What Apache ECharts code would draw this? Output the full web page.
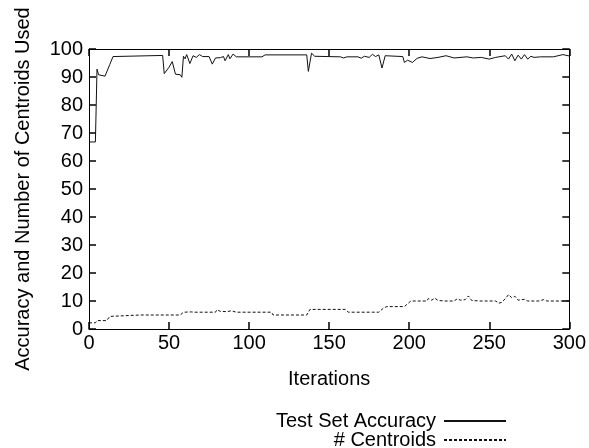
<!DOCTYPE html>
<html>
<head>
<meta charset="utf-8">
<script src="https://cdn.jsdelivr.net/npm/echarts@6/dist/echarts.min.js"></script>
<style>html,body{margin:0;padding:0;background:#fff}#c{width:589px;height:448px}</style>
</head>
<body>
<div id="c"></div>
<script>
const xTicks = [0, 50, 100, 150, 200, 250, 300];
const yTicks = [0, 10, 20, 30, 40, 50, 60, 70, 80, 90, 100];
const seriesNames = ['Test Set Accuracy', '# Centroids'];
const accuracy = [
  [0,66.8],[4,66.8],[5,92.8],[6,90.8],[7,90.3],[10,90.3],[11,90.5],[13,94.5],[15,97.3],[16,97.7],
  [46,97.7],[47,91.2],[50,93.5],[52,95.5],[54,91.0],[55,91.5],[57,90.8],[58,89.9],[59,97.4],[60,96.5],
  [61,98.0],[62,97.6],[63,94.8],[65,97.6],[67,97.0],[69,98.0],[71,97.3],[75,97.3],[77,94.6],[79,96.8],
  [82,96.9],[84,97.3],[85,95.8],[87,98.0],[88,96.5],[90,98.2],[92,97.2],[108,97.2],[110,97.9],[136,97.9],
  [137,92.0],[139,98.5],[141,97.4],[157,97.2],[159,96.8],[161,97.2],[168,97.2],[170,96.7],[172,97.4],[175,97.0],
  [177,98.1],[179,97.3],[181,97.9],[183,93.2],[185,97.6],[196,97.3],[197,95.2],[199,96.0],[202,95.2],[205,96.7],
  [208,97.2],[213,96.6],[218,97.0],[223,97.6],[228,96.8],[236,97.2],[240,96.8],[245,97.0],[250,96.4],[254,97.0],
  [260,97.6],[262,96.4],[264,98.2],[266,95.8],[268,97.8],[270,96.4],[272,98.0],[274,96.4],[276,97.4],[278,97.0],
  [282,97.2],[290,97.2],[293,97.6],[296,98.0],[300,97.5]
];
const centroids = [
  [0,2.2],[4,2.2],[5,3.0],[11,3.0],[13,4.5],[14,5.0],[32,5.0],[33,5.6],[34,5.0],[57,5.0],
  [59,6.0],[64,6.1],[65,6.6],[66,6.0],[79,6.0],[80,6.9],[82,6.3],[86,6.2],[89,6.5],[92,6.0],
  [114,6.0],[115,5.0],[136,5.0],[138,7.0],[160,7.0],[162,6.0],[175,6.0],[176,6.5],[177,6.0],[181,6.0],
  [182,5.7],[184,7.5],[186,8.0],[197,8.0],[199,9.0],[201,10.0],[211,10.0],[212,10.9],[214,10.3],[216,11.0],
  [218,10.2],[222,10.0],[228,10.0],[230,10.8],[232,10.3],[235,10.5],[237,11.8],[239,10.2],[244,10.0],[245,10.6],
  [247,10.0],[254,10.0],[256,9.2],[258,9.6],[261,11.5],[262,12.3],[264,11.2],[266,11.7],[268,10.3],[272,10.6],
  [274,10.0],[281,10.0],[284,10.5],[286,10.0],[300,10.0]
];

const FONT = '"Liberation Sans", Arial, sans-serif';
const chart = echarts.init(document.getElementById('c'));
function tick() { return {show: true, inside: true, length: 7, lineStyle: {color: '#000', width: 1.5}}; }
function line() { return {show: true, onZero: false, lineStyle: {color: '#000', width: 1}}; }
chart.setOption({
  animation: false,
  backgroundColor: '#fff',
  grid: {left: 89, right: 18, top: 49, bottom: 119},
  xAxis: [
    {type: 'value', min: xTicks[0], max: xTicks[xTicks.length - 1], interval: 50, position: 'bottom',
     name: 'Iterations', nameLocation: 'middle', nameGap: 40,
     nameTextStyle: {fontFamily: FONT, fontSize: 20, color: '#000'},
     axisLabel: {fontFamily: FONT, fontSize: 20, color: '#000', margin: 4},
     axisLine: line(), axisTick: tick(), splitLine: {show: false}},
    {type: 'value', min: xTicks[0], max: xTicks[xTicks.length - 1], interval: 50, position: 'top',
     axisLabel: {show: false}, axisLine: line(), axisTick: tick(), splitLine: {show: false}}
  ],
  yAxis: [
    {type: 'value', min: yTicks[0], max: yTicks[yTicks.length - 1], interval: 10, position: 'left',
     name: 'Accuracy and Number of Centroids Used', nameLocation: 'middle', nameGap: 56,
     nameTextStyle: {fontFamily: FONT, fontSize: 20, color: '#000'},
     axisLabel: {fontFamily: FONT, fontSize: 20, color: '#000', margin: 6},
     axisLine: line(), axisTick: tick(), splitLine: {show: false}},
    {type: 'value', min: yTicks[0], max: yTicks[yTicks.length - 1], interval: 10, position: 'right',
     axisLabel: {show: false}, axisLine: line(), axisTick: tick(), splitLine: {show: false}}
  ],
  legend: [
    {data: [seriesNames[0]], right: 82, top: 411, padding: 0, align: 'right', itemWidth: 62, itemHeight: 14, itemGap: 0,
     itemStyle: {opacity: 0}, textStyle: {fontFamily: FONT, fontSize: 20, color: '#000', padding: [0, 3, 0, 0]}},
    {data: [seriesNames[1]], right: 82, top: 430, padding: 0, align: 'right', itemWidth: 62, itemHeight: 14, itemGap: 0,
     itemStyle: {opacity: 0}, textStyle: {fontFamily: FONT, fontSize: 20, color: '#000', padding: [0, 3, 0, 0]}}
  ],
  series: [
    {name: seriesNames[0], type: 'line', data: accuracy, symbol: 'none',
     lineStyle: {color: '#111', width: 1, type: 'solid'}, itemStyle: {color: '#111'}},
    {name: seriesNames[1], type: 'line', data: centroids, symbol: 'none',
     lineStyle: {color: '#111', width: 1, type: [3, 2]}, itemStyle: {color: '#111'}}
  ]
});
</script>
</body>
</html>
